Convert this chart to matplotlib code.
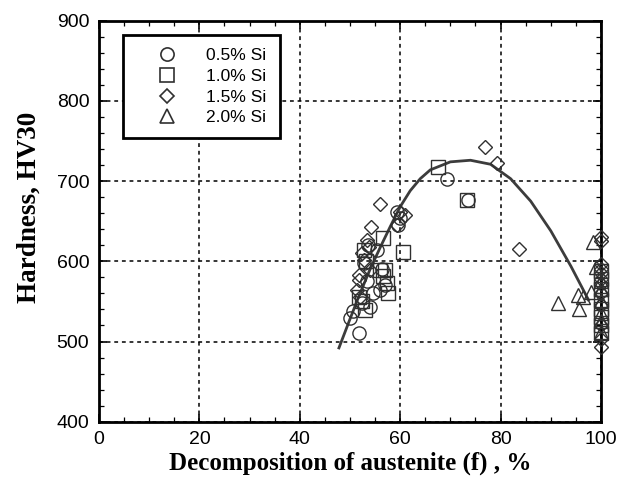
import matplotlib
matplotlib.use("Agg")
import matplotlib.pyplot as plt
from matplotlib.ticker import MultipleLocator
from matplotlib.lines import Line2D

# ---- data ----
circle_x = [50.0, 50.6, 51.8, 52.4, 53.3, 54.0, 54.6, 55.3, 56.0, 56.4, 57.0, 52.8, 53.5, 59.3, 59.6, 60.0, 69.3, 73.5]
circle_y = [529, 538, 510, 548, 575, 543, 560, 614, 564, 591, 570, 598, 620, 662, 645, 654, 702, 677]

square_x = [51.8, 52.3, 53.0, 52.7, 53.2, 56.6, 56.0, 57.0, 57.3, 57.6, 56.5, 60.6, 67.6, 73.3,
            100, 100, 100, 100, 100, 100, 100, 100]
square_y = [555, 550, 539, 614, 600, 629, 589, 589, 573, 560, 582, 612, 718, 677,
            588, 578, 565, 552, 540, 530, 520, 510]

diamond_x = [51.3, 51.7, 51.7, 52.0, 52.3, 52.7, 53.3, 53.7, 54.0, 54.1, 56.0, 59.4, 61.0, 60.0,
             76.9, 79.2, 83.7, 100, 100, 100, 100, 100, 100, 100, 100, 100, 100, 100, 100]
diamond_y = [564, 583, 577, 556, 610, 602, 627, 618, 589, 643, 672, 645, 658, 662,
             743, 722, 615, 630, 625, 597, 590, 585, 578, 572, 560, 545, 520, 503, 493]

triangle_x = [91.5, 95.5, 95.7, 96.4, 98.1, 98.5, 99.0, 100, 100, 100, 100, 100, 100]
triangle_y = [548, 558, 540, 556, 562, 624, 593, 575, 565, 550, 535, 525, 512]

curve_x = [47.8, 50, 52, 54, 56, 58, 60, 62, 64, 66, 70, 74, 78, 82, 86, 90, 94, 97.5]
curve_y = [492, 528, 560, 590, 617, 643, 668, 688, 703, 714, 724, 726, 721, 703, 675, 638, 594, 552]

series_labels = ["0.5% Si", "1.0% Si", "1.5% Si", "2.0% Si"]
x_ticks = [0, 20, 40, 60, 80, 100]
y_ticks = [400, 500, 600, 700, 800, 900]

# ---- figure ----
fig = plt.figure(figsize=(6.33, 4.86), dpi=100)
ax = fig.add_axes([0.1564, 0.1323, 0.7930, 0.8251])

ax.set_xlim(0, 100)
ax.set_ylim(400, 900)
ax.set_xticks(x_ticks)
ax.set_yticks(y_ticks)
ax.xaxis.set_minor_locator(MultipleLocator(5))
ax.yaxis.set_minor_locator(MultipleLocator(20))

ax.grid(True, which="major", color="black", linestyle=(0, (2.5, 2.5)), linewidth=1.1)
ax.set_axisbelow(True)

ax.tick_params(which="both", direction="in", top=True, right=True, color="black")
ax.tick_params(which="major", length=6, width=1.2, labelsize=14, pad=7)
ax.tick_params(which="minor", length=3.5, width=0.9)
for lab in ax.get_xticklabels() + ax.get_yticklabels():
    lab.set_family(["Liberation Sans", "DejaVu Sans"])

for sp in ax.spines.values():
    sp.set_linewidth(2.0)
    sp.set_color("black")

ax.plot(curve_x, curve_y, color="#3c3c3c", linewidth=2.0, zorder=2, clip_on=False)

ec = "#303030"
ms_o, ms_s, ms_d, ms_t = 9.5, 9.5, 7.5, 9.5
kw = dict(linestyle="none", markerfacecolor="none", markeredgecolor=ec, markeredgewidth=1.0, zorder=3, clip_on=False)
ax.plot(circle_x, circle_y, marker="o", markersize=ms_o, **kw)
ax.plot(square_x, square_y, marker="s", markersize=ms_s, **kw)
ax.plot(diamond_x, diamond_y, marker="D", markersize=ms_d, **kw)
ax.plot(triangle_x, triangle_y, marker="^", markersize=ms_t, **kw)

hkw = dict(linestyle="none", markerfacecolor="none", markeredgecolor=ec, markeredgewidth=1.2)
handles = [
    Line2D([], [], marker="o", markersize=ms_o, **hkw),
    Line2D([], [], marker="s", markersize=ms_s, **hkw),
    Line2D([], [], marker="D", markersize=ms_d, **hkw),
    Line2D([], [], marker="^", markersize=ms_t, **hkw),
]
leg = ax.legend(handles, series_labels, loc="upper left", bbox_to_anchor=(0.048, 0.964),
                frameon=True, fancybox=False, edgecolor="black", framealpha=1,
                prop={"family": ["Liberation Sans", "DejaVu Sans"], "size": 12.5},
                borderpad=0.75, handletextpad=0.45, labelspacing=0.32, borderaxespad=0,
                handlelength=3.6)
leg.get_frame().set_linewidth(2.0)
leg.set_zorder(5)

ax.set_xlabel("Decomposition of austenite (f) , %", family=["Liberation Serif", "DejaVu Serif"],
              fontweight="bold", fontsize=18, labelpad=2)
ax.set_ylabel("Hardness, HV30", family=["Liberation Serif", "DejaVu Serif"],
              fontweight="bold", fontsize=19.5, labelpad=7)
ax.yaxis.set_label_coords(-0.114, 0.535)

fig.savefig("out.png", dpi=100)
